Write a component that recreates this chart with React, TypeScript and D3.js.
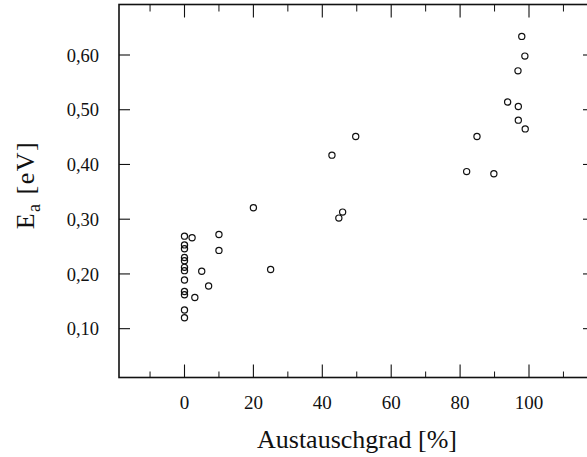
import React from 'react';
import * as d3 from 'd3';

// Austauschgrad [%] vs. activation energy E_a [eV]
const exchange = [
  0, 0, 0, 0, 0, 0, 0, 0, 0, 0, 0, 0,
  2.2, 3, 5, 7, 10, 10, 20, 25,
  42.8, 44.8, 45.9, 49.7,
  81.9, 84.9, 89.8, 93.8, 96.8, 96.9, 96.9, 97.9, 98.8, 98.9,
];
const energy = [
  0.269, 0.253, 0.246, 0.230, 0.224, 0.212, 0.206, 0.189, 0.168, 0.162, 0.134, 0.120,
  0.266, 0.157, 0.205, 0.178, 0.272, 0.243, 0.321, 0.208,
  0.417, 0.302, 0.313, 0.451,
  0.387, 0.451, 0.383, 0.514, 0.571, 0.506, 0.481, 0.634, 0.598, 0.465,
];

const xMajor = [0, 20, 40, 60, 80, 100];
const xMinor = [-10, 10, 30, 50, 70, 90, 110];
const yMajor = [0.1, 0.2, 0.3, 0.4, 0.5, 0.6];

const W = 587;
const H = 457;
const frame = { left: 119, right: 598, top: 4.5, bottom: 377.5 };

const x = d3.scaleLinear().domain([0, 100]).range([184.5, 529]);
const y = d3.scaleLinear().domain([0, 0.6]).range([383.4, 55]);
const fmt = (v: number) => d3.format('.2f')(v).replace('.', ',');

const serif = { fontFamily: 'Liberation Serif' };

export default function App() {
  const pts = exchange.map((v, i) => ({ x: v, y: energy[i] }));
  return (
    <svg width={W} height={H} style={{ position: 'absolute', left: 0, top: 0, background: '#fff' }}>
      <rect x={frame.left} y={frame.top} width={frame.right - frame.left}
        height={frame.bottom - frame.top} fill="none" stroke="#111" strokeWidth={1.6} />
      {xMajor.map((t) => (
        <g key={'xM' + t}>
          <line x1={x(t)} x2={x(t)} y1={frame.bottom} y2={frame.bottom - 13} stroke="#111" strokeWidth={1.1} />
          <line x1={x(t)} x2={x(t)} y1={frame.top} y2={frame.top + 13} stroke="#111" strokeWidth={1.1} />
          <text x={x(t)} y={409} fontSize={19} textAnchor="middle" fill="#111" style={serif}>{t}</text>
        </g>
      ))}
      {xMinor.map((t) => (
        <g key={'xm' + t}>
          <line x1={x(t)} x2={x(t)} y1={frame.bottom} y2={frame.bottom - 6} stroke="#111" strokeWidth={1} />
          <line x1={x(t)} x2={x(t)} y1={frame.top} y2={frame.top + 7} stroke="#111" strokeWidth={1} />
        </g>
      ))}
      {yMajor.map((t) => (
        <g key={'y' + t}>
          <line x1={frame.left} x2={frame.left + 11} y1={y(t)} y2={y(t)} stroke="#111" strokeWidth={1.1} />
          <line x1={frame.right} x2={frame.right - 15} y1={y(t)} y2={y(t)} stroke="#111" strokeWidth={1.1} />
          <text x={99} y={y(t)} dy="0.36em" fontSize={18.5} textAnchor="end" fill="#111" style={serif}>{fmt(t)}</text>
        </g>
      ))}
      {pts.map((p, i) => (
        <circle key={i} cx={x(p.x)} cy={y(p.y)} r={3.1} fill="none" stroke="#111" strokeWidth={1.2} />
      ))}
      <text x={357} y={448} fontSize={26} textAnchor="middle" fill="#111" style={serif}>Austauschgrad [%]</text>
      <text transform="translate(34,185) rotate(-90)" fontSize={26} textAnchor="middle" fill="#111"
        style={{ ...serif, letterSpacing: 1.5 }}>
        E<tspan fontSize={18} dy={6}>a</tspan><tspan dy={-6}> [eV]</tspan>
      </text>
    </svg>
  );
}
